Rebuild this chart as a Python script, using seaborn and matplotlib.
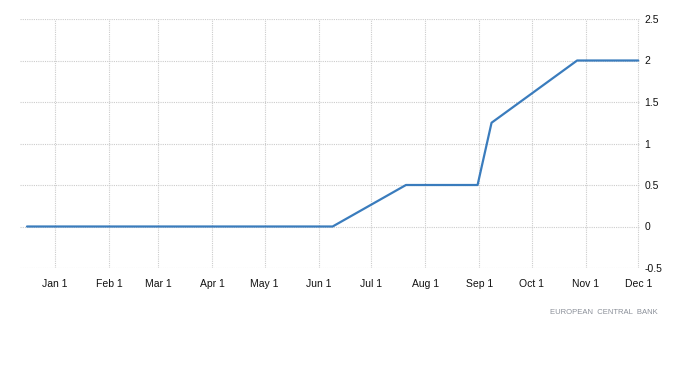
import matplotlib
matplotlib.use("Agg")
import matplotlib.pyplot as plt
import seaborn as sns
import pandas as pd

dates = ["2021-12-16", "2022-02-03", "2022-03-10", "2022-04-14", "2022-06-09",
         "2022-07-21", "2022-08-31", "2022-09-08", "2022-10-27", "2022-12-01"]
rates = [0.0, 0.0, 0.0, 0.0, 0.0, 0.5, 0.5, 1.25, 2.0, 2.0]
tick_dates = ["2022-01-01", "2022-02-01", "2022-03-01", "2022-04-01", "2022-05-01", "2022-06-01",
              "2022-07-01", "2022-08-01", "2022-09-01", "2022-10-01", "2022-11-01", "2022-12-01"]
tick_labels = ["Jan 1", "Feb 1", "Mar 1", "Apr 1", "May 1", "Jun 1",
               "Jul 1", "Aug 1", "Sep 1", "Oct 1", "Nov 1", "Dec 1"]
y_ticks = [-0.5, 0, 0.5, 1, 1.5, 2, 2.5]
y_labels = ["-0.5", "0", "0.5", "1", "1.5", "2", "2.5"]
source = "EUROPEAN  CENTRAL  BANK"

df = pd.DataFrame({"date": pd.to_datetime(dates), "rate": rates})

sns.set_style("white")
plt.rcParams["font.family"] = ["Liberation Sans", "DejaVu Sans"]

fig = plt.figure(figsize=(7, 3.65), dpi=100)
ax = fig.add_axes([20 / 700, 1 - 268 / 365, 620 / 700, (268 - 19) / 365])

sns.lineplot(data=df, x="date", y="rate", ax=ax, color="#3a7cbd", linewidth=1.6)

ax.set_xlim(pd.Timestamp("2021-12-12"), pd.Timestamp("2022-12-02"))
ax.set_ylim(-0.5, 2.5)
ax.set_xticks(pd.to_datetime(tick_dates))
ax.set_xticklabels(tick_labels)
ax.set_yticks(y_ticks)
ax.set_yticklabels(y_labels)
ax.yaxis.tick_right()
ax.set_xlabel("")
ax.set_ylabel("")
for s in ax.spines.values():
    s.set_visible(False)
ax.grid(True, color="#cccccc", linestyle=(0, (1, 1)), linewidth=0.8)
ax.tick_params(axis="both", length=0, labelsize=7.5, colors="#111111")
ax.tick_params(axis="x", pad=8)
ax.tick_params(axis="y", pad=3)
for lab in ax.get_yticklabels():
    lab.set_horizontalalignment("left")

fig.text(658 / 700, 1 - 312 / 365, source, ha="right", va="center",
         fontsize=5.5, color="#8a8f98")

fig.savefig("out.png", dpi=100, facecolor="white")
